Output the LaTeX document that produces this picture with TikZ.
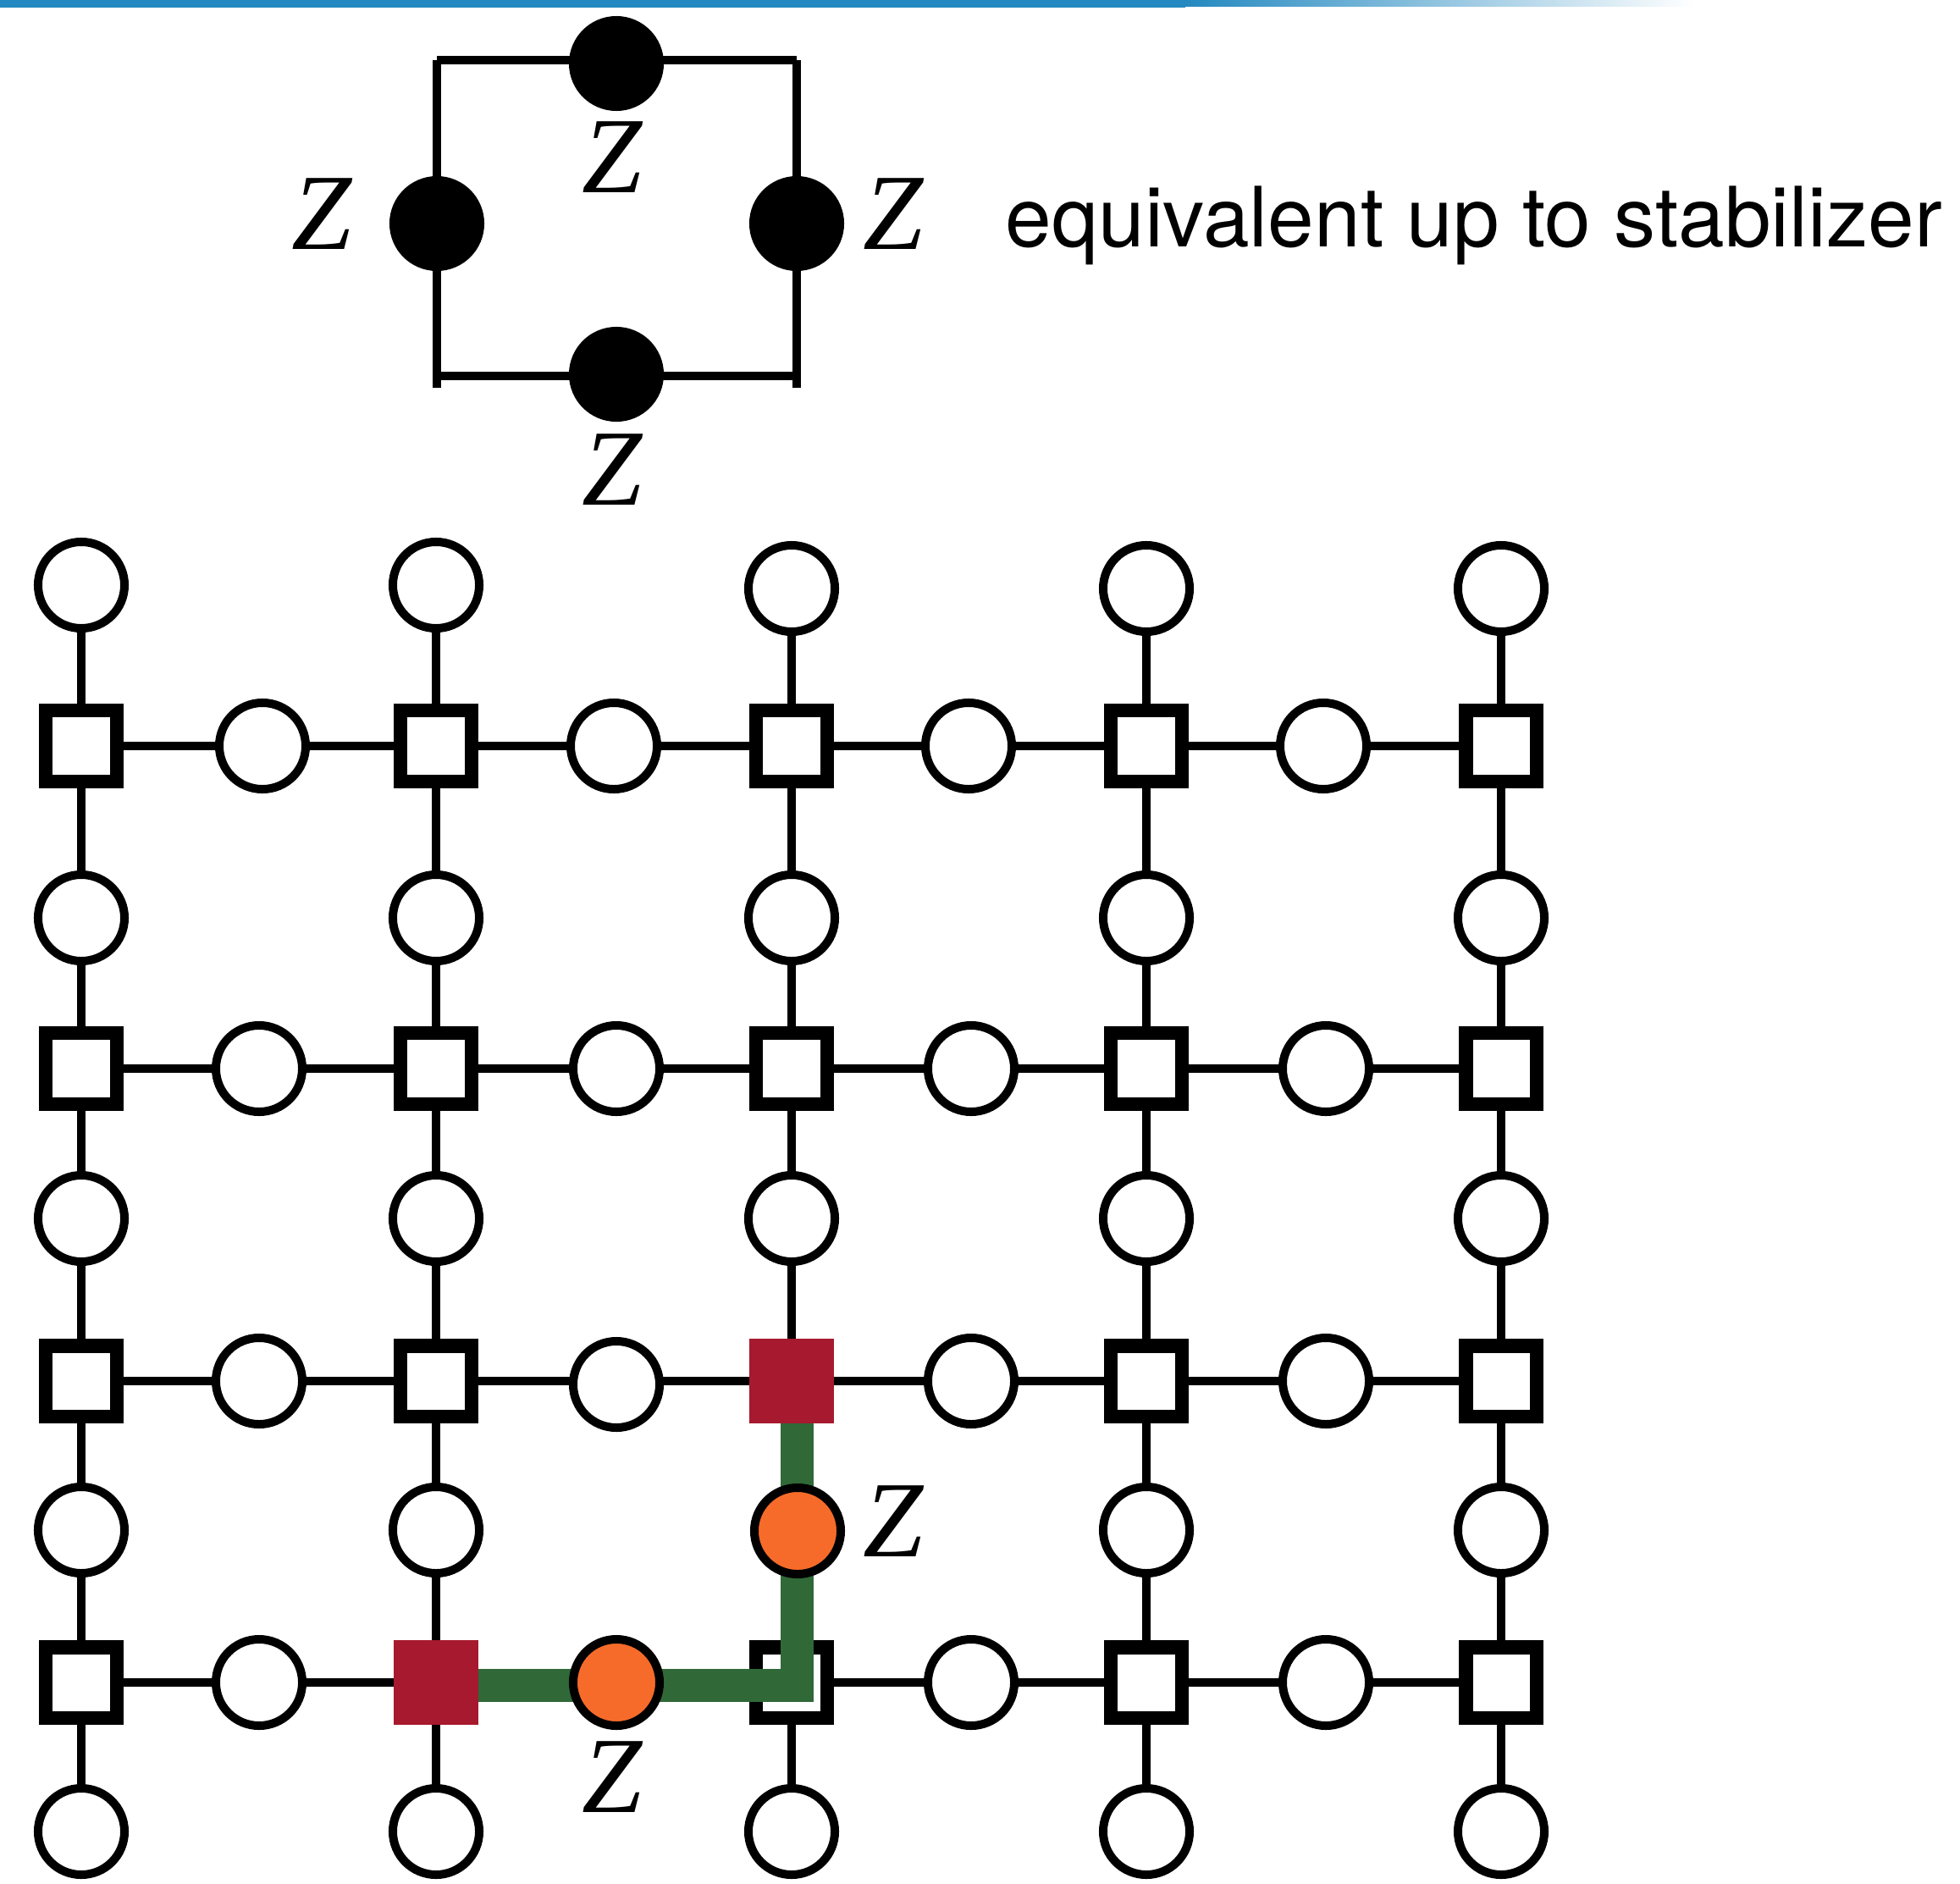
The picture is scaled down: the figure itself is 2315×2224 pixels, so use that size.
\documentclass[tikz,border=0pt]{standalone}
\usepackage{fontspec}
\newfontfamily\heros{TeX Gyre Heros}
\newfontfamily\timesit{Liberation Serif}[UprightFont=*-Italic]
\pgfdeclarelayer{bg}
\pgfdeclarelayer{top}
\pgfsetlayers{bg,main,top}
\definecolor{barblue}{RGB}{36,137,192}
\definecolor{qred}{RGB}{166,25,46}
\definecolor{qorange}{RGB}{247,107,42}
\definecolor{qgreen}{RGB}{48,105,55}
\begin{document}
\begin{tikzpicture}[x=0.01cm,y=-0.01cm,
  qubit/.style={circle,draw=black,fill=white,line width=0.1cm,minimum size=1.02cm,inner sep=0},
  stab/.style={rectangle,draw=black,fill=white,line width=0.16cm,minimum size=0.83cm,inner sep=0},
  redstab/.style={rectangle,fill=qred,minimum size=0.99cm,inner sep=0},
  zqubit/.style={qubit,fill=qorange},
  dot/.style={circle,fill=black,minimum size=1.12cm,inner sep=0},
  edge/.style={line width=0.1cm},
  zlab/.style={inner sep=0,font=\timesit\fontsize{36.4}{40}\selectfont},
  greenpath/.style={draw=qgreen,line width=0.39cm,line join=miter}]
\useasboundingbox (0,0) rectangle (2315,2224);
% top bar
\fill[barblue] (0,0) rectangle (1400,9);
\shade[left color=barblue,right color=white] (1400,0) rectangle (2000,7);
% ---- top plaquette ----
\node[dot] (dT) at (728,75) {};
\node[dot] (dB) at (728,442) {};
\node[dot] (dL) at (516,264) {};
\node[dot] (dR) at (941,264) {};
\coordinate (cTL) at (516,71);
\coordinate (cTR) at (941,71);
\coordinate (cBL) at (516,444);
\coordinate (cBR) at (941,444);
\coordinate (eL) at (516,458);
\coordinate (eR) at (941,458);
\begin{pgfonlayer}{bg}
\draw[edge] (cTL) -- (cTR);
\draw[edge] (cBL) -- (cBR);
\draw[edge] (cTL) -- (eL);
\draw[edge] (cTR) -- (eR);
\end{pgfonlayer}
\node[zlab] (zT) at (723,186) {Z};
\node[zlab] (zL) at (380,253) {Z};
\node[zlab] (zR) at (1055,253) {Z};
\node[zlab] (zB) at (723,555) {Z};
\node[anchor=base west,inner sep=0,font=\heros\fontsize{27.95}{32}\selectfont] (txt) at (1187,291) {equivalent up to stabilizer};
% ---- lattice ----
\foreach \c/\x/\y in {1/96/691,2/515/691,3/935/695,4/1354/695,5/1773/695}
  \node[qubit] (t\c) at (\x,\y) {};
\foreach \c/\x in {1/96,2/515,3/935,4/1354,5/1773}
  \node[qubit] (b\c) at (\x,2163) {};
% squares
\foreach \r/\y in {1/881,2/1262}
  \foreach \c/\x in {1/96,2/515,3/935,4/1354,5/1773}
    \node[stab] (s\r\c) at (\x,\y) {};
\foreach \c/\x in {1/96,2/515,4/1354,5/1773}
  \node[stab] (s3\c) at (\x,1631) {};
\foreach \c/\x in {1/96,3/935,4/1354,5/1773}
  \node[stab] (s4\c) at (\x,1987) {};
% vertical-edge qubits
\foreach \r/\y in {1/1084,2/1439}
  \foreach \c/\x in {1/96,2/515,3/935,4/1354,5/1773}
    \node[qubit] (v\r\c) at (\x,\y) {};
\foreach \c/\x in {1/96,2/515,4/1354,5/1773}
  \node[qubit] (v3\c) at (\x,1807) {};
% horizontal-edge qubits
\foreach \k/\x in {1/310,2/725,3/1144,4/1563}
  \node[qubit] (h1\k) at (\x,881) {};
\foreach \k/\x in {1/306,2/728,3/1147,4/1566}
  \node[qubit] (h2\k) at (\x,1262) {};
\foreach \k/\x/\y in {1/306/1631,2/728/1635,3/1147/1631,4/1566/1631}
  \node[qubit] (h3\k) at (\x,\y) {};
\foreach \k/\x in {1/306,3/1147,4/1566}
  \node[qubit] (h4\k) at (\x,1987) {};
% highlighted
\begin{pgfonlayer}{top}
\node[redstab] (s33) at (935,1631) {};
\node[redstab] (s42) at (515,1987) {};
\node[zqubit] (v33) at (942,1808) {};
\node[zqubit] (h42) at (728,1987) {};
\end{pgfonlayer}
\coordinate (gc) at (941,1990);
\draw[greenpath] (s42.east |- gc) -- (gc) -- (gc |- s33.south);
\node[zlab] (zq1) at (1055,1797) {Z};
\node[zlab] (zq2) at (723,2099) {Z};
% edges
\begin{pgfonlayer}{bg}
\foreach \c in {1,...,5}
  \draw[edge] (t\c.center) -- (b\c.center);
\foreach \r in {1,...,4}
  \draw[edge] (s\r1.center) -- (s\r5.center);
\end{pgfonlayer}
\end{tikzpicture}
\end{document}
